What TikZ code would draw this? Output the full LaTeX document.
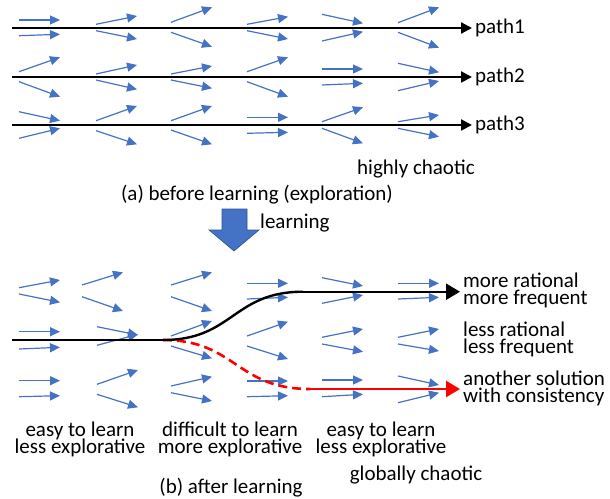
\documentclass[tikz,border=0pt]{standalone}
\usepackage{fontspec}
\setmainfont{Carlito}
\usetikzlibrary{arrows.meta,positioning}
\definecolor{vecblue}{HTML}{4472C4}
\definecolor{vecedge}{HTML}{2F528F}
\newcommand{\lblfont}{\fontsize{21}{17}\selectfont\setlength{\lineskiplimit}{-20pt}}

\begin{document}
\begin{tikzpicture}[x=1pt,y=-1pt,>=stealth,
        vec/.style={vecblue,line width=1.2pt,-{Triangle[length=10pt,width=9pt]}},
        pathline/.style={line width=2.2pt,-{Triangle[length=11pt,width=11pt]}},
        bigline/.style={line width=2.4pt,-{Triangle[length=14pt,width=16pt]}},
        lbl/.style={inner xsep=3pt,inner ysep=0pt,font=\lblfont}]
        \useasboundingbox (0,0) rectangle (610,498);

        % field before learning: column x / start y / end y
        \foreach \x/\ya/\yb in {19/20/20, 19/35.7/34.3, 19/71.7/57.3, 19/81.7/96.7, 19/111.7/120.7, 19/138.3/128.3,
                96/24.3/16, 96/30.7/39, 96/74/65, 96/80/89.3, 96/120.7/106, 96/130.7/144.3,
                171/22.3/7.3, 171/32.3/46.7, 171/74/66, 171/80/88.3, 171/120.7/106, 171/130/144.3,
                247/24.3/16.7, 247/30.7/39, 247/71.7/57.3, 247/81.7/96.7, 247/117.3/117.3, 247/133.3/132.3,
                322/14.3/23.3, 322/41/31.7, 322/69/69, 322/85/83.3, 322/121.7/107.3, 322/128.3/143.3,
                398/22.7/7.3, 398/32.3/47.7, 398/63.3/72.3, 398/90.7/81, 398/121.7/115, 398/128.3/136.7}
            \draw[vec] (\x,\ya) -- (\x+41,\yb);

        % field after learning
        \foreach \x/\ya/\yb in {19/287.7/280, 19/294/302.3, 19/331.7/331.7, 19/349/347.3, 19/380.7/380.7, 19/396.7/395.7,
                82/285/272.3, 82/296.7/311, 97/326.7/335, 97/345.3/334.3, 97/384.3/370, 97/394.3/407.3,
                171/285/272.3, 171/296.7/311, 171/336/321, 171/346/358.3, 171/386/376.7, 171/392.7/401,
                247/283.3/283.3, 247/299/297.3, 247/336/321.7, 247/346/359, 247/381/381, 247/396.7/395.7,
                322/277.7/286, 322/303.3/295, 322/337.3/329, 322/344/351.7, 322/380/380, 322/396.7/394.3,
                398/283.3/283.3, 398/299/297.3, 398/337.3/329, 398/344/351, 398/376/385, 398/402.7/392.7}
            \draw[vec] (\x,\ya) -- (\x+41,\yb);

        % (a) before learning
        \coordinate (s1) at (12,28);
        \coordinate (s2) at (12,77);
        \coordinate (s3) at (12,125);
        \node[lbl,anchor=base west] (path1) at (472,33) {path1};
        \node[lbl,anchor=base west] (path2) at (472,82) {path2};
        \node[lbl,anchor=base west] (path3) at (472,130) {path3};
        \draw[pathline] (s1) -- (s1 -| path1.west);
        \draw[pathline] (s2) -- (s2 -| path2.west);
        \draw[pathline] (s3) -- (s3 -| path3.west);
        \node[lbl,anchor=base west] (chaos) at (354,174) {highly chaotic};
        \node[lbl,anchor=base] (capa) at (257,200) {(a) before learning (exploration)};

        % learning arrow
        \draw[vecedge,fill=vecblue,line width=0.6pt] (222,209) -- (247,209) -- (247,230) -- (259,230)
            -- (234,251) -- (209,230) -- (222,230) -- cycle;
        \node[lbl,anchor=base west] (learn) at (257,228) {learning};

        % (b) after learning
        \coordinate (start) at (12,340);
        \coordinate (split) at (163,340);
        \coordinate (upper) at (303,291.7);
        \coordinate (lower) at (310,389);
        \node[lbl,anchor=base west,align=left] (rational) at (460,304.5) {more rational\\more frequent};
        \node[lbl,anchor=base west,align=left] (lessrat) at (460,353.5) {less rational\\less frequent};
        \node[lbl,anchor=base west,align=left] (another) at (460,402) {another solution\\with consistency};
        \draw[line width=2.4pt] (start) -- (split);
        \draw[red,line width=2.6pt,dash pattern=on 9pt off 5pt] (split)
            .. controls (236,340) and (236,389) .. (lower);
        \draw[red,bigline] (lower) -- (lower -| another.west);
        \draw[line width=2.4pt] (split) .. controls (233,340) and (233,291.7) .. (upper);
        \draw[bigline] (upper) -- (upper -| rational.west);

        \node[lbl,anchor=base,align=center] (easyl) at (80,453.5) {easy to learn\\less explorative};
        \node[lbl,anchor=base,align=center] (hard) at (230,453.5) {difficult to learn\\more explorative};
        \node[lbl,anchor=base,align=center] (easyr) at (381,453.5) {easy to learn\\less explorative};
        \node[lbl,anchor=base] (global) at (416,480) {globally chaotic};
        \node[lbl,anchor=base] (capb) at (231,493) {(b) after learning};
    \end{tikzpicture}
\end{document}
